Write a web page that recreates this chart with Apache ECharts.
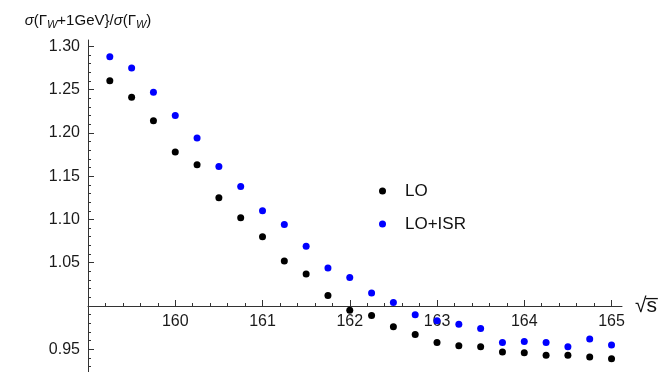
<!DOCTYPE html>
<html>
<head>
<meta charset="utf-8">
<script src="https://cdn.jsdelivr.net/npm/echarts@6/dist/echarts.min.js"></script>
<style>
  html, body { margin: 0; padding: 0; background: #fff; }
  #chart { width: 662px; height: 372px; }
</style>
</head>
<body>
<div id="chart"></div>
<script>
// sqrt(s) in GeV
const energies = [159.25, 159.5, 159.75, 160, 160.25, 160.5, 160.75, 161, 161.25, 161.5, 161.75, 162,
  162.25, 162.5, 162.75, 163, 163.25, 163.5, 163.75, 164, 164.25, 164.5, 164.75, 165]
const loValues = [1.260, 1.241, 1.214, 1.178, 1.163, 1.125, 1.102, 1.080, 1.052, 1.037, 1.012, 0.995,
  0.989, 0.976, 0.967, 0.958, 0.954, 0.953, 0.947, 0.946, 0.943, 0.943, 0.941, 0.939]
const isrValues = [1.288, 1.275, 1.247, 1.220, 1.194, 1.161, 1.138, 1.110, 1.094, 1.069, 1.044, 1.033,
  1.015, 1.004, 0.990, 0.983, 0.979, 0.974, 0.958, 0.959, 0.958, 0.953, 0.962, 0.955]

const xTickLabels = [160, 161, 162, 163, 164, 165]
const yTickLabels = [0.95, 1.05, 1.10, 1.15, 1.20, 1.25, 1.30]

const xRange = [159.0, 165.12]
const yRange = [0.9238, 1.3072]

// minor ticks (0.2 on x, 0.01 on y)
const xMinor = []
for (let i = 1; i < 31; i++) {
  if (i % 5 !== 0) xMinor.push(+(159 + i * 0.2).toFixed(1))
}
const yMinor = []
for (let i = 93; i <= 130; i++) {
  if (i % 5 !== 0) yMinor.push(i / 100)
}

const axisColor = '#333'
const labelFont = { color: '#1a1a1a', fontSize: 16, fontFamily: 'Liberation Sans, Arial, sans-serif' }

const chart = echarts.init(document.getElementById('chart'))
const option = {
  animation: false,
  grid: { left: 88, right: 40, top: 40, bottom: 0, containLabel: false },
  legend: {
    orient: 'vertical',
    left: 374,
    top: 176,
    icon: 'circle',
    itemWidth: 7,
    itemHeight: 7,
    itemGap: 13,
    textStyle: { ...labelFont, color: '#111', fontSize: 17, lineHeight: 20, padding: [0, 0, 0, 14] },
    data: ['LO', 'LO+ISR']
  },
  xAxis: [
    {
      type: 'value',
      min: xRange[0],
      max: xRange[1],
      position: 'bottom',
      offset: -66,
      name: '√s̅',
      nameLocation: 'end',
      nameGap: 13,
      nameTextStyle: { ...labelFont, fontSize: 21, color: '#111' },
      axisLine: { onZero: false, lineStyle: { color: axisColor, width: 1 } },
      axisTick: { inside: true, length: 6, customValues: xTickLabels, lineStyle: { color: axisColor } },
      axisLabel: { ...labelFont, margin: 8, customValues: xTickLabels },
      splitLine: { show: false }
    },
    {
      type: 'value',
      min: xRange[0],
      max: xRange[1],
      position: 'bottom',
      offset: -66,
      axisLine: { show: false, onZero: false },
      axisTick: { inside: true, length: 3, customValues: xMinor, lineStyle: { color: axisColor } },
      axisLabel: { show: false },
      splitLine: { show: false }
    }
  ],
  yAxis: [
    {
      type: 'value',
      min: yRange[0],
      max: yRange[1],
      position: 'left',
      name: '{i|σ}(Γ{s|W}+1GeV}/{i|σ}(Γ{s|W})',
      nameLocation: 'end',
      nameGap: 9,
      nameTextStyle: {
        ...labelFont,
        fontSize: 15,
        color: '#111',
        lineHeight: 20,
        rich: {
          i: { fontSize: 15, fontStyle: 'italic', color: '#111', fontFamily: 'Liberation Sans, Arial, sans-serif' },
          s: { fontSize: 11, fontStyle: 'italic', color: '#111', padding: [7, 0, 0, 0], fontFamily: 'Liberation Sans, Arial, sans-serif' }
        }
      },
      axisLine: { onZero: false, lineStyle: { color: axisColor, width: 1 } },
      axisTick: { inside: true, length: 6, customValues: yTickLabels, lineStyle: { color: axisColor } },
      axisLabel: { ...labelFont, margin: 8, customValues: yTickLabels, formatter: (v) => v.toFixed(2) },
      splitLine: { show: false }
    },
    {
      type: 'value',
      min: yRange[0],
      max: yRange[1],
      position: 'left',
      axisLine: { show: false, onZero: false },
      axisTick: { inside: true, length: 3, customValues: yMinor, lineStyle: { color: axisColor } },
      axisLabel: { show: false },
      splitLine: { show: false }
    }
  ],
  series: [
    {
      name: 'LO',
      type: 'scatter',
      symbolSize: 7,
      itemStyle: { color: '#000', opacity: 1 },
      data: energies.map((e, i) => [e, loValues[i]])
    },
    {
      name: 'LO+ISR',
      type: 'scatter',
      symbolSize: 7,
      itemStyle: { color: '#0000ff', opacity: 1 },
      data: energies.map((e, i) => [e, isrValues[i]])
    }
  ]
}
chart.setOption(option)
</script>
</body>
</html>
